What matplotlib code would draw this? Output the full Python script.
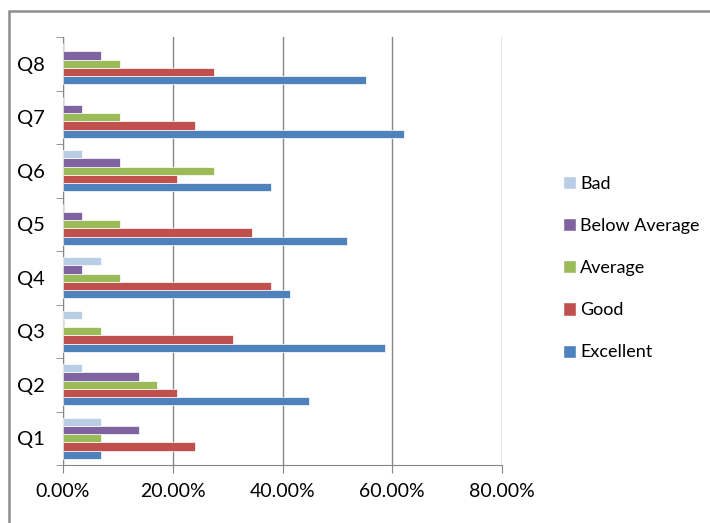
import numpy as np
import matplotlib.pyplot as plt
from matplotlib.patches import Rectangle, Patch
from matplotlib.ticker import FuncFormatter

# Datos (porcentaje de respuestas)
preguntas = ['Q1', 'Q2', 'Q3', 'Q4', 'Q5', 'Q6', 'Q7', 'Q8']
excellent = [6.9, 44.8, 58.6, 41.4, 51.7, 37.9, 62.1, 55.2]
good = [24.1, 20.7, 31.0, 37.9, 34.5, 20.7, 24.1, 27.6]
average = [6.9, 17.2, 6.9, 10.3, 10.3, 27.6, 10.3, 10.3]
below_average = [13.8, 13.8, 0.0, 3.4, 3.4, 10.3, 3.4, 6.9]
bad = [6.9, 3.4, 3.4, 6.9, 0.0, 3.4, 0.0, 0.0]

series = [('Excellent', excellent, '#4F81BD'),
          ('Good', good, '#C0504D'),
          ('Average', average, '#9BBB59'),
          ('Below Average', below_average, '#8064A2'),
          ('Bad', bad, '#B9CDE5')]

plt.rcParams['font.family'] = ['Lato', 'DejaVu Sans']

fig = plt.figure(figsize=(7.1, 5.23), dpi=100)
ax = fig.add_axes([63 / 710, 58 / 523, 439 / 710, 428 / 523])

# Marco exterior del grafico (estilo Excel)
fig.patches.append(Rectangle((9 / 710, -0.05), 1.1, 1.05 - 11 / 523,
                             transform=fig.transFigure, fill=False,
                             edgecolor='#8C8C8C', linewidth=1.8))

y = np.arange(len(preguntas))
h = 0.77 / 5
for k, (nombre, vals, color) in enumerate(series):
    ax.barh(y + (k - 2) * h, vals, height=h, color=color,
            edgecolor='white', linewidth=0.5, label=nombre, zorder=3)

ax.set_xlim(0, 80)
ax.set_ylim(-0.5, len(preguntas) - 0.5)
ax.set_xticks([0, 20, 40, 60, 80])
ax.xaxis.set_major_formatter(FuncFormatter(lambda v, p: f'{v:.2f}%'))
ax.set_yticks(y)
ax.set_yticklabels(preguntas)
ax.set_yticks(np.arange(-0.5, len(preguntas)), minor=True)

ax.grid(axis='x', color='#868686', linewidth=1, zorder=0)
for s in ['top', 'right']:
    ax.spines[s].set_visible(False)
for s in ['left', 'bottom']:
    ax.spines[s].set_color('#868686')
ax.tick_params(axis='y', which='major', length=0, labelsize=14.5, pad=13)
ax.tick_params(axis='y', which='minor', length=5, color='#868686')
ax.tick_params(axis='x', length=6, color='#868686', labelsize=14, pad=7)

handles = [Patch(facecolor=c, edgecolor='white', label=n) for n, v, c in series][::-1]
fig.legend(handles=handles, loc='upper left', bbox_to_anchor=(0.77, 0.695),
           frameon=False, fontsize=13, handlelength=0.75, handleheight=0.75,
           handletextpad=0.2, labelspacing=1.45)

plt.savefig('out.png', dpi=100)
